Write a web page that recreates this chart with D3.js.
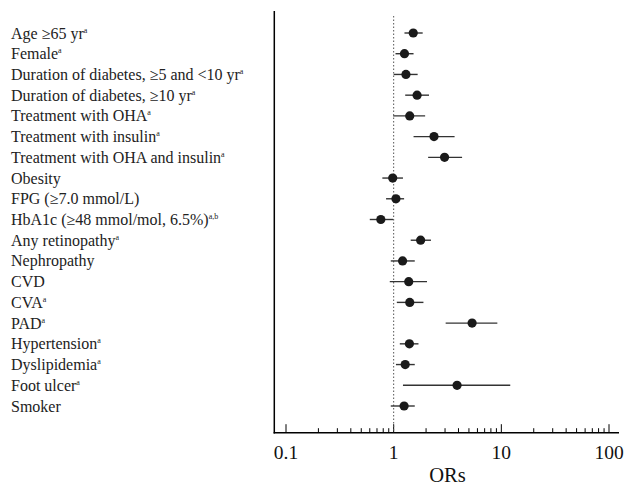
<!DOCTYPE html>
<html><head><meta charset="utf-8">
<script src="https://cdn.jsdelivr.net/npm/d3@7"></script>
<style>body{margin:0;background:#fff}svg{display:block}</style>
</head><body>
<script>
const labels = ["Age \u226565 yr","Female","Duration of diabetes, \u22655 and <10 yr","Duration of diabetes, \u226510 yr","Treatment with OHA","Treatment with insulin","Treatment with OHA and insulin","Obesity","FPG (\u22657.0 mmol/L)","HbA1c (\u226548 mmol/mol, 6.5%)","Any retinopathy","Nephropathy","CVD","CVA","PAD","Hypertension","Dyslipidemia","Foot ulcer","Smoker"];
const notes = ["a","a","a","a","a","a","a","","","a,b","a","","","a","a","a","a","a",""];
const ors   = [1.52,1.26,1.30,1.65,1.41,2.37,2.97,0.98,1.05,0.76,1.78,1.21,1.38,1.41,5.35,1.40,1.28,3.88,1.25];
const lower = [1.26,1.04,1.00,1.28,0.99,1.53,2.09,0.785,0.85,0.60,1.44,0.94,0.92,1.07,3.04,1.14,1.05,1.22,0.94];
const upper = [1.86,1.53,1.67,2.13,1.96,3.68,4.32,1.22,1.25,0.99,2.22,1.57,2.04,1.89,9.18,1.70,1.57,12.1,1.57];
const tickVals = [0.1,1,10,100];
const tickLabels = ["0.1","1","10","100"];
const xTitle = "ORs";

const W=626,H=486;
const svg=d3.select("body").append("svg").attr("width",W).attr("height",H);
const x=d3.scaleLog().domain([0.1,100]).range([286,609]);
const y=d3.scalePoint().domain(d3.range(labels.length)).range([33,406]);
const axisY=432.7, leftX=274.3, rightX=619;
const serif="'Liberation Serif','Times New Roman',serif";

// frame lines
svg.append("line").attr("x1",leftX).attr("x2",leftX).attr("y1",11).attr("y2",axisY+0.7).attr("stroke","#000").attr("stroke-width",1.5);
svg.append("line").attr("x1",leftX-0.7).attr("x2",rightX).attr("y1",axisY).attr("y2",axisY).attr("stroke","#000").attr("stroke-width",1.5);

// ticks
const minor=[];
[0.1,1,10].forEach(d=>{for(let k=2;k<=9;k++)minor.push(d*k);});
svg.selectAll(".mn").data(minor).join("line").attr("x1",d=>x(d)).attr("x2",d=>x(d)).attr("y1",axisY-4.5).attr("y2",axisY).attr("stroke","#000").attr("stroke-width",1);
svg.selectAll(".mj").data(tickVals).join("line").attr("x1",d=>x(d)).attr("x2",d=>x(d)).attr("y1",axisY-8.5).attr("y2",axisY).attr("stroke","#000").attr("stroke-width",1);
svg.selectAll(".tl").data(tickVals).join("text").attr("x",d=>x(d)).attr("y",459).attr("text-anchor","middle")
  .attr("font-family",serif).attr("font-size",19.5).attr("fill","#111").text((d,i)=>tickLabels[i]);
svg.append("text").attr("x",(x.range()[0]+x.range()[1])/2).attr("y",481.5).attr("text-anchor","middle").attr("font-family",serif).attr("font-size",20.5).attr("fill","#111").text(xTitle);

// reference line
svg.append("line").attr("x1",x(1)).attr("x2",x(1)).attr("y1",16).attr("y2",axisY).attr("stroke","#555").attr("stroke-width",1).attr("stroke-dasharray","1.5,2");

// labels
const lt=svg.selectAll(".lab").data(labels).join("text").attr("x",11).attr("y",(d,i)=>y(i)+5.5)
  .attr("font-family",serif).attr("font-size",16).attr("fill","#222");
lt.append("tspan").text(d=>d);
lt.append("tspan").attr("font-size",8).attr("dy",-6).text((d,i)=>notes[i]);

// CIs and points
svg.selectAll(".ci").data(ors).join("line").attr("x1",(d,i)=>x(lower[i])).attr("x2",(d,i)=>x(upper[i]))
  .attr("y1",(d,i)=>y(i)).attr("y2",(d,i)=>y(i)).attr("stroke","#333").attr("stroke-width",1.4);
svg.selectAll(".pt").data(ors).join("circle").attr("cx",d=>x(d)).attr("cy",(d,i)=>y(i)).attr("r",4.6).attr("fill","#1a1a1a");
</script>
</body></html>
